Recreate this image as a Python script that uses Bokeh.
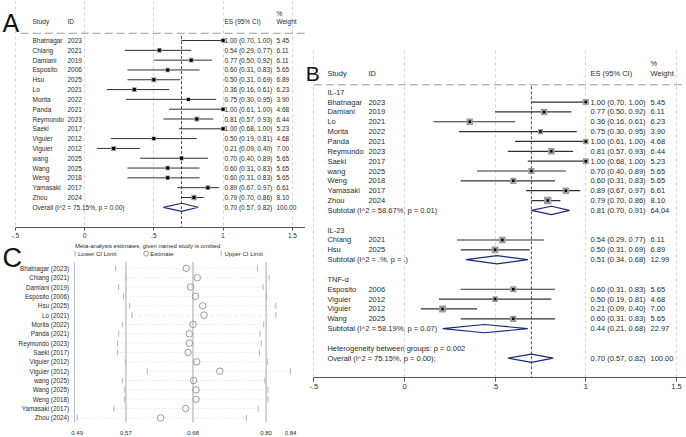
import math
from bokeh.plotting import figure
from bokeh.layouts import row, column
from bokeh.models import Range1d, FixedTicker, PrintfTickFormatter
from bokeh.embed import file_html
from bokeh.resources import INLINE
from bokeh.core.properties import value

FONT = "Liberation Sans"
NAVY = "#1b2a78"
RED = "#a8282c"
TXT = "#2b2b2b"

# ---------------- data ----------------
study = ["Bhatnagar", "Chiang", "Damiani", "Esposito", "Hsu", "Lo", "Morita", "Panda",
         "Reymundo", "Saeki", "Viguier", "Viguier", "wang", "Wang", "Weng", "Yamasaki", "Zhou"]
year = ["2023", "2021", "2019", "2006", "2025", "2021", "2022", "2021",
        "2023", "2017", "2012", "2012", "2025", "2025", "2018", "2017", "2024"]
es = [1.00, 0.54, 0.77, 0.60, 0.50, 0.36, 0.75, 1.00, 0.81, 1.00, 0.50, 0.21, 0.70, 0.60, 0.60, 0.89, 0.79]
ci_lo = [0.70, 0.29, 0.50, 0.31, 0.31, 0.16, 0.30, 0.61, 0.57, 0.68, 0.19, 0.09, 0.40, 0.31, 0.31, 0.67, 0.70]
ci_hi = [1.00, 0.77, 0.92, 0.83, 0.69, 0.61, 0.95, 1.00, 0.93, 1.00, 0.81, 0.40, 0.89, 0.83, 0.83, 0.97, 0.86]
weight = [5.45, 6.11, 6.11, 5.65, 6.89, 6.23, 3.90, 4.68, 6.44, 5.23, 4.68, 7.00, 5.65, 5.65, 5.65, 6.61, 8.10]
cytokine = ["IL-17", "IL-23", "IL-17", "TNF-α", "IL-23", "IL-17", "IL-17", "IL-17",
            "IL-17", "IL-17", "TNF-α", "TNF-α", "IL-17", "TNF-α", "IL-17", "IL-17", "IL-17"]

groups = ["IL-17", "IL-23", "TNF-α"]
sub_es = [0.81, 0.51, 0.44]
sub_lo = [0.70, 0.34, 0.21]
sub_hi = [0.91, 0.68, 0.68]
sub_wt = [64.04, 12.99, 22.97]
sub_het = ["I^2 = 58.67%, p = 0.01", "I^2 = .%, p = .", "I^2 = 58.19%, p = 0.07"]

overall_es, overall_lo, overall_hi, overall_wt = 0.70, 0.57, 0.82, 100.00
overall_het = "I^2 = 75.15%, p = 0.00"
between_p = "0.002"

# leave-one-out sensitivity (panel C)
c_lower = [0.553, 0.570, 0.558, 0.566, 0.576, 0.580, 0.564, 0.558, 0.556, 0.556,
           0.569, 0.605, 0.564, 0.568, 0.568, 0.550, 0.490]
c_est = [0.669, 0.687, 0.676, 0.684, 0.696, 0.698, 0.680, 0.674, 0.674, 0.672,
         0.686, 0.724, 0.681, 0.685, 0.685, 0.668, 0.627]
c_upper = [0.786, 0.805, 0.795, 0.801, 0.816, 0.816, 0.796, 0.790, 0.792, 0.789,
           0.802, 0.840, 0.798, 0.803, 0.803, 0.787, 0.768]
c_ref = [0.57, 0.68, 0.80]
c_ticks = [0.49, 0.57, 0.68, 0.80, 0.84]

fp_ticks = [-0.5, 0, 0.5, 1, 1.5]
fp_labels = ["-.5", "0", ".5", "1", "1.5"]


def fmt_ci(e, l, h):
    return f"{e:.2f} ({l:.2f}, {h:.2f})"


def txt(p, xs, ys, texts, size, color=TXT, align="left"):
    p.text(x=xs, y=ys, text=texts, text_font=value(FONT), text_font_size=f"{size}px",
           text_color=color, text_align=align, text_baseline="middle")


def style_forest_axis(p, bounds, size, tick_out, standoff):
    ax = p.xaxis[0]
    ax.ticker = FixedTicker(ticks=fp_ticks)
    ax.major_label_overrides = dict(zip(fp_ticks, fp_labels))
    ax.bounds = bounds
    ax.axis_line_color = "#555555"
    ax.major_tick_line_color = "#555555"
    ax.major_tick_out = tick_out
    ax.major_tick_in = 0
    ax.minor_tick_line_color = None
    ax.major_label_text_font = FONT
    ax.major_label_text_font_size = f"{size}px"
    ax.major_label_text_color = TXT
    ax.major_label_standoff = standoff
    p.xgrid.ticker = FixedTicker(ticks=fp_ticks)
    p.xgrid.grid_line_color = "#d6d6d6"
    p.xgrid.grid_line_dash = "3 3"
    p.ygrid.visible = False


def draw_studies(p, rows, e, l, h, w, box_k, dot, lw):
    p.segment(x0=l, y0=rows, x1=h, y1=rows, line_color="#303030", line_width=lw)
    p.scatter(x=e, y=rows, size=[box_k * math.sqrt(v) for v in w], marker="square",
              fill_color="#9c9c9c", line_color=None)
    p.scatter(x=e, y=rows, size=dot, marker="square", fill_color="black", line_color=None)


def diamond(p, r, e, l, h, hh):
    p.patch(x=[l, e, h, e, l], y=[r, r - hh, r, r + hh, r], fill_color=None,
            line_color=NAVY, line_width=1.2)


# ---------------- Panel A ----------------
a_x0, a_x1 = -84 / 138.6, 221 / 138.6
a_y_top, a_y_bot = -4.08, 19.06
pA = figure(width=305, height=243, x_range=Range1d(a_x0, a_x1), y_range=Range1d(a_y_bot, a_y_top),
            output_backend="svg", toolbar_location=None, y_axis_location=None,
            min_border=0, min_border_bottom=16, outline_line_color=None)
style_forest_axis(pA, (-0.5, a_x1), 6.5, 3, 2)

n = len(study)
rows_a = list(range(n))
ov_row_a = n
pA.segment(x0=[-0.46], y0=[-0.74], x1=[a_x1], y1=[-0.74], line_color="#9a9a9a", line_dash="8 4")
pA.segment(x0=[overall_es], y0=[-0.45], x1=[overall_es], y1=[a_y_bot], line_color=RED, line_dash="3 2")
draw_studies(pA, rows_a, es, ci_lo, ci_hi, weight, 1.9, 3, 1)
diamond(pA, ov_row_a, overall_es, overall_lo, overall_hi, 0.41)

A_STUDY, A_ID, A_ES, A_WT = -0.375, -0.123, 1.010, 1.385
txt(pA, [A_STUDY, A_ID, A_ES, A_WT, A_WT], [-1.97, -1.97, -1.97, -2.78, -1.97],
    ["Study", "ID", "ES (95% CI)", "%", "Weight"], 6.5)
txt(pA, [A_STUDY] * n, rows_a, study, 6.5)
txt(pA, [A_ID] * n, rows_a, year, 6.5)
txt(pA, [A_ES] * n, rows_a, [fmt_ci(*t) for t in zip(es, ci_lo, ci_hi)], 6.5)
txt(pA, [A_WT] * n, rows_a, [f"{v:.2f}" for v in weight], 6.5)
txt(pA, [A_STUDY, A_ES, A_WT], [ov_row_a] * 3,
    [f"Overall  ({overall_het})", fmt_ci(overall_es, overall_lo, overall_hi), f"{overall_wt:.2f}"], 6.5)
txt(pA, [-0.592], [-1.78], ["A"], 25, color="#111111")

# ---------------- Panel B ----------------
b_x0, b_x1 = (305 - 404) / 181.3, (686 - 404) / 181.3
b_y_top, b_y_bot = -4.234, 28.96
pB = figure(width=381, height=437, x_range=Range1d(b_x0, b_x1), y_range=Range1d(b_y_bot, b_y_top),
            output_backend="svg", toolbar_location=None, y_axis_location=None,
            min_border=0, min_border_top=50, min_border_bottom=60, outline_line_color=None)
style_forest_axis(pB, (-0.5, b_x1), 7.5, 4, 2)

B_STUDY, B_ID, B_ES, B_WT = -0.425, -0.199, 1.026, 1.357
pB.segment(x0=[-0.5], y0=[-0.75], x1=[b_x1], y1=[-0.75], line_color="#9a9a9a", line_dash="8 4")
pB.segment(x0=[overall_es], y0=[-0.6], x1=[overall_es], y1=[b_y_bot], line_color=RED, line_dash="3 2")
txt(pB, [B_STUDY, B_ID, B_ES, B_WT, B_WT], [-1.93, -1.93, -1.93, -2.88, -1.93],
    ["Study", "ID", "ES (95% CI)", "%", "Weight"], 7.5)

r = 0
for g, (ge, gl, gh, gw, ghet) in zip(groups, zip(sub_es, sub_lo, sub_hi, sub_wt, sub_het)):
    idx = [i for i in range(n) if cytokine[i] == g]
    txt(pB, [B_STUDY], [r], [g], 7.5)
    rows_b = [r + 1 + k for k in range(len(idx))]
    draw_studies(pB, rows_b, [es[i] for i in idx], [ci_lo[i] for i in idx], [ci_hi[i] for i in idx],
                 [weight[i] for i in idx], 2.6, 2.5, 1.2)
    txt(pB, [B_STUDY] * len(idx), rows_b, [study[i] for i in idx], 7.5)
    txt(pB, [B_ID] * len(idx), rows_b, [year[i] for i in idx], 7.5)
    txt(pB, [B_ES] * len(idx), rows_b, [fmt_ci(es[i], ci_lo[i], ci_hi[i]) for i in idx], 7.5)
    txt(pB, [B_WT] * len(idx), rows_b, [f"{weight[i]:.2f}" for i in idx], 7.5)
    sr = r + 1 + len(idx)
    diamond(pB, sr, ge, gl, gh, 0.42)
    txt(pB, [B_STUDY, B_ES, B_WT], [sr] * 3,
        [f"Subtotal  ({ghet})", fmt_ci(ge, gl, gh), f"{gw:.2f}"], 7.5)
    r = sr + 2

txt(pB, [B_STUDY], [r], [f"Heterogeneity between groups: p = {between_p}"], 7.5)
diamond(pB, r + 1, overall_es, overall_lo, overall_hi, 0.42)
txt(pB, [B_STUDY, B_ES, B_WT], [r + 1] * 3,
    [f"Overall  ({overall_het});", fmt_ci(overall_es, overall_lo, overall_hi), f"{overall_wt:.2f}"], 7.5)
txt(pB, [b_x0 + 0.002], [-1.95], ["B"], 21, color="#111111")

# ---------------- Panel C ----------------
c_scale = 609.4
c_x0 = 0.49 - 76.7 / c_scale
c_x1 = 0.49 + (305 - 76.7) / c_scale
c_left = 0.49 + (74 - 76.7) / c_scale
c_lab = 0.49 + (68.5 - 76.7) / c_scale
c_y_top, c_y_bot = -2.66, 16.49
pC = figure(width=305, height=194, x_range=Range1d(c_x0, c_x1), y_range=Range1d(c_y_bot, c_y_top),
            output_backend="svg", toolbar_location=None, y_axis_location=None,
            min_border=0, min_border_bottom=12, outline_line_color=None)
pC.xgrid.visible = False
pC.ygrid.visible = False
xa = pC.xaxis[0]
xa.ticker = FixedTicker(ticks=c_ticks)
xa.formatter = PrintfTickFormatter(format="%.2f")
xa.axis_line_color = None
xa.major_tick_line_color = None
xa.minor_tick_line_color = None
xa.major_label_text_font = FONT
xa.major_label_text_font_size = "6px"
xa.major_label_text_color = TXT
xa.major_label_standoff = 2

rows_c = list(range(n))
# left axis line and study labels
pC.segment(x0=[c_left], y0=[-0.69], x1=[c_left], y1=[c_y_bot], line_color="#bdbdbd")
txt(pC, [c_lab] * n, rows_c, [f"{study[i]} ({year[i]})" for i in range(n)], 6.3, align="right")

pC.segment(x0=c_lower, y0=rows_c, x1=c_upper, y1=rows_c, line_color="#dedede", line_dash="1 2")
pC.segment(x0=c_ref, y0=[-0.69] * 3, x1=c_ref, y1=[c_y_bot] * 3, line_color="#a8a8a8", line_width=1)
th = 0.32
pC.segment(x0=c_lower, y0=[v - th for v in rows_c], x1=c_lower, y1=[v + th for v in rows_c],
           line_color="#b5b5b5")
pC.segment(x0=c_upper, y0=[v - th for v in rows_c], x1=c_upper, y1=[v + th for v in rows_c],
           line_color="#b5b5b5")
pC.scatter(x=c_est, y=rows_c, size=6.5, marker="circle", fill_color=None, line_color="#9a9a9a")

# title & legend
leg_row = -1.58
txt(pC, [0.4862], [-2.4], ["Meta-analysis estimates, given named study is omitted"], 6)
pC.segment(x0=[0.4866, 0.7263], y0=[leg_row - th] * 2, x1=[0.4866, 0.7263], y1=[leg_row + th] * 2,
           line_color="#b5b5b5")
pC.scatter(x=[0.6032], y=[leg_row], size=5, marker="circle", fill_color=None, line_color="#9a9a9a")
txt(pC, [0.4913, 0.6100, 0.7317], [leg_row] * 3, ["Lower CI Limit", "Estimate", "Upper CI Limit"], 6)
txt(pC, [0.49 + (2 - 76.7) / c_scale], [-1.08], ["C"], 27, color="#111111")

layout = row(column(pA, pC), pB)
open("out.html", "w").write(file_html(layout, INLINE))
